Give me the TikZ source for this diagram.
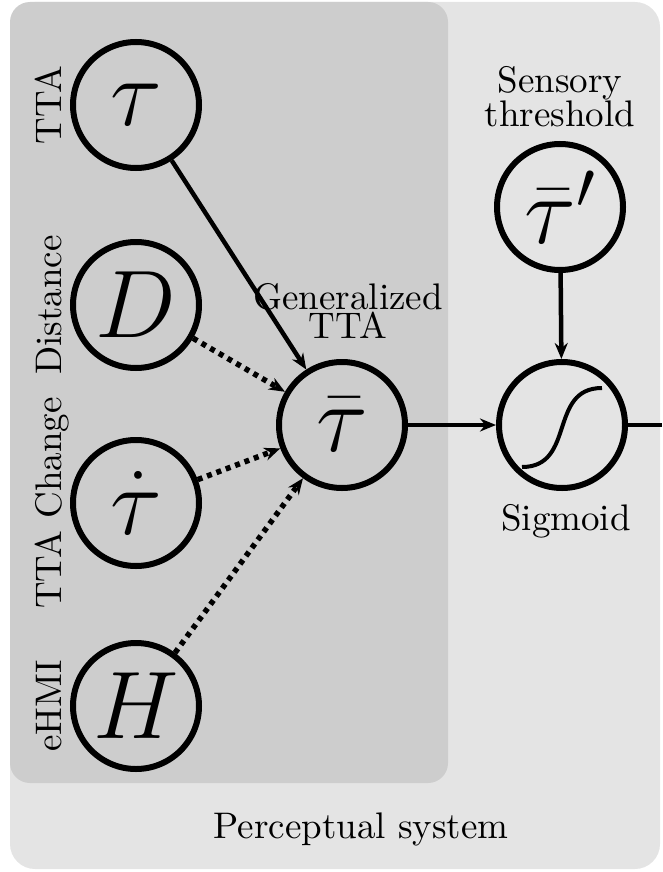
\RequirePackage{fix-cm}
\documentclass[tikz,border=0pt]{standalone}
\usepackage{fontspec}
\setmainfont{lmroman10-regular}[Extension=.otf]
\usetikzlibrary{arrows.meta}

\definecolor{outerbg}{RGB}{228,228,228}
\definecolor{innerbg}{RGB}{205,205,205}

\tikzset{
  var/.style={draw, circle, line width=6pt, minimum size=126pt, inner sep=0pt,
    font=\fontsize{96}{96}\selectfont},
  lbl/.style={font=\fontsize{37}{31}\selectfont, align=center},
  sidelbl/.style={font=\fontsize{37}{37}\selectfont, rotate=90, anchor=base},
  link/.style={line width=4.5pt, -{Stealth[length=16pt,width=13pt]}},
  soft/.style={link, line width=5.5pt, dash pattern=on 5pt off 5pt},
}

\begin{document}
\begin{tikzpicture}[x=1pt, y=-1pt]
\useasboundingbox (0,0) rectangle (662,872);

% Boxes behind everything
\fill[outerbg, rounded corners=25pt] (10,2) rectangle (660,869);
\fill[innerbg, rounded corners=20pt] (10,2) rectangle (448,783);

% Input variables, one column
\node[var] (tau) at (136,105) {$\tau$};
\node[var] (dd) at (136,305) {$D$};
\node[var] (taudot) at (136,503) {$\dot{\tau}$};
\node[var] (hh) at (136,706) {$H$};

% Side labels for the inputs
\node[sidelbl] (ltta) at (61,105) {TTA};
\node[sidelbl] (ldist) at (61,305) {Distance};
\node[sidelbl] (lchange) at (61,503) {TTA Change};
\node[sidelbl] (lehmi) at (61,706) {eHMI};

% Generalized TTA
\node[var] (taubar) at (342,425) {$\bar{\tau}$};
\node[lbl, font=\fontsize{37}{25}\selectfont] (lgen) at (348,311) {Generalized\\TTA};

% Threshold and sigmoid
\node[var] (thr) at (560,207) {$\bar{\tau}'$};
\node[lbl] (lthr) at (560,97) {Sensory\\threshold};
\node[var] (sig) at (562,425) {};
\draw[line width=4pt, shift={(sig.center)}] (-40,42) .. controls (14,42) and (-14,-37) .. (40,-37);
\node[lbl] (lsig) at (566,521) {Sigmoid};

\node[lbl] (lper) at (361,829) {Perceptual system};

% Connections
\draw[link] (tau) -- (taubar);
\draw[soft] (dd) -- (taubar);
\draw[soft] (taudot) -- (taubar);
\draw[soft] (hh) -- (taubar);
\draw[link] (taubar) -- (sig);
\draw[link] (thr) -- (sig);
\coordinate (out) at (662,425);
\draw[line width=4.5pt] (sig) -- (out);
\end{tikzpicture}
\end{document}
